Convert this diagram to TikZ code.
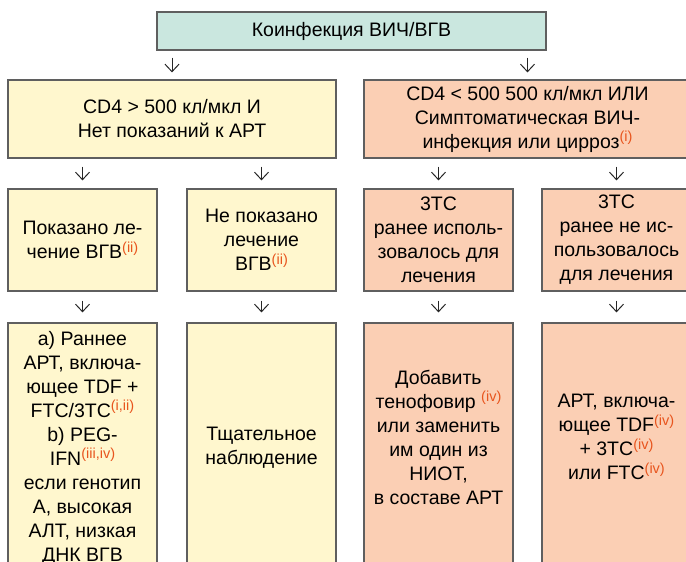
\documentclass[tikz,border=0pt]{standalone}
\usepackage{fontspec}
\setmainfont{Liberation Sans}
\usetikzlibrary{arrows.meta}
\definecolor{tealc}{RGB}{202,231,223}
\definecolor{yelc}{RGB}{255,247,206}
\definecolor{salc}{RGB}{251,207,180}
\definecolor{bordc}{RGB}{95,95,95}
\definecolor{supc}{RGB}{232,85,30}
\newcommand\mysup[1]{\raisebox{6.5pt}{\fontsize{14.5}{14.5}\selectfont\textcolor{supc}{#1}}}
\begin{document}
\begin{tikzpicture}[x=1pt,y=-1pt,
  box/.style={draw=bordc, line width=1.2pt, minimum width=149pt, minimum height=102pt,
    inner sep=0pt, align=center, font=\fontsize{19.5}{24}\selectfont},
  txt/.style={inner sep=0pt, align=center, font=\fontsize{19.5}{24}\selectfont},
  arr/.style={-{Straight Barb[length=7.5pt,width=14pt]}, line width=1pt, draw=black!85}]
\useasboundingbox (0,0) rectangle (686,562);
\clip (0,0) rectangle (686,562);
% top
\node[box, fill=tealc, minimum width=389pt, minimum height=38pt] (top) at (351.5,31) {Коинфекция ВИЧ/ВГВ};
% big boxes
\node[box, fill=yelc, minimum width=328pt, minimum height=78pt] (L) at (172,119)
  {CD4 > 500 кл/мкл И\\Нет показаний к АРТ};
\node[box, fill=salc, minimum width=327pt, minimum height=78pt] (R) at (527.5,119)
  {CD4 < 500 500 кл/мкл ИЛИ\\Симптоматическая ВИЧ-\\инфекция или цирроз\mysup{(i)}};
% row 2
\node[box, fill=yelc] (b1) at (82.5,240) {Показано ле-\\чение ВГВ\mysup{(ii)}};
\node[box, fill=yelc] (b2) at (261.5,240) {Не показано\\лечение\\ВГВ\mysup{(ii)}};
\node[box, fill=salc] (b3) at (438.5,240) {3TC\\ранее исполь-\\зовалось для\\лечения};
\node[box, fill=salc] (b4) at (616.5,240) {3TC\\ранее не ис-\\пользовалось\\для лечения};
% row 3 boxes
\node[box, fill=yelc, minimum height=277pt] (c1) at (82.5,461.5) {};
\node[box, fill=yelc, minimum height=277pt] (c2) at (261.5,461.5) {};
\node[box, fill=salc, minimum height=277pt] (c3) at (438.5,461.5) {};
\node[box, fill=salc, minimum height=277pt] (c4) at (616.5,461.5) {};
% row 3 texts
\node[txt] (t1) at (82.5,448) {а) Раннее\\АРТ, включа-\\ющее TDF +\\FTC/3TC\mysup{(i,ii)}\\b) PEG-\\IFN\mysup{(iii,iv)}\\если генотип\\А, высокая\\АЛТ, низкая\\ДНК ВГВ};
\node[txt] (t2) at (261.5,448) {Тщательное\\наблюдение};
\node[txt] (t3) at (438.5,437) {Добавить\\тенофовир \mysup{(iv)}\\или заменить\\им один из\\НИОТ,\\в составе АРТ};
\node[txt] (t4) at (616.5,437) {АРТ, включа-\\ющее TDF\mysup{(iv)}\\+ 3TC\mysup{(iv)}\\или FTC\mysup{(iv)}};
% arrows
\draw[arr, shorten <=7pt, shorten >=7pt] (top.south -| L.north) -- (L.north);
\draw[arr, shorten <=7pt, shorten >=7pt] (top.south -| R.north) -- (R.north);
\draw[arr, shorten <=8pt, shorten >=8pt] (L.south -| b1.north) -- (b1.north);
\draw[arr, shorten <=8pt, shorten >=8pt] (L.south -| b2.north) -- (b2.north);
\draw[arr, shorten <=8pt, shorten >=8pt] (R.south -| b3.north) -- (b3.north);
\draw[arr, shorten <=8pt, shorten >=8pt] (R.south -| b4.north) -- (b4.north);
\draw[arr, shorten <=9pt, shorten >=10pt] (b1.south) -- (c1.north);
\draw[arr, shorten <=9pt, shorten >=10pt] (b2.south) -- (c2.north);
\draw[arr, shorten <=9pt, shorten >=10pt] (b3.south) -- (c3.north);
\draw[arr, shorten <=9pt, shorten >=10pt] (b4.south) -- (c4.north);
\end{tikzpicture}
\end{document}
